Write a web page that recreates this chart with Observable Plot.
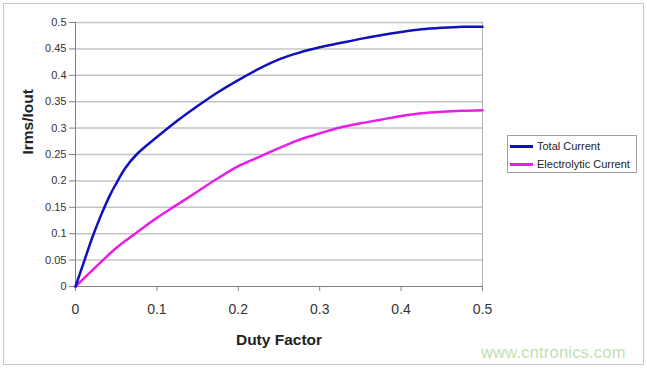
<!DOCTYPE html>
<html><head><meta charset="utf-8">
<script src="https://cdn.jsdelivr.net/npm/d3@7"></script>
<script src="https://cdn.jsdelivr.net/npm/@observablehq/plot@0.6"></script>
<style>
body{margin:0;background:#fff;font-family:Arial,"Liberation Sans",sans-serif;}
#wrap{position:relative;width:647px;height:369px;overflow:hidden;}
#wrap svg{position:absolute;left:0;top:0;}
#border{position:absolute;left:3px;top:3px;width:641px;height:362px;border:1px solid #c8c8c8;box-sizing:border-box;pointer-events:none;}
#legend{position:absolute;left:507px;top:135px;width:130px;height:38px;border:1px solid #a0a0a0;box-sizing:border-box;background:#fff;font-size:11px;color:#222;}
.item{position:absolute;left:2px;height:12px;line-height:12px;white-space:nowrap;}
.item span.sw{display:inline-block;width:23px;height:3px;vertical-align:middle;margin-right:4px;position:relative;top:-1px;}
#wm{position:absolute;left:481px;top:343px;font-size:16.5px;color:#bfe0b0;letter-spacing:0.2px;}
</style>
</head><body>
<div id="wrap"><div id="border"></div></div>
<script>
const xTicks = [0, 0.1, 0.2, 0.3, 0.4, 0.5];
const yTicks = [0, 0.05, 0.1, 0.15, 0.2, 0.25, 0.3, 0.35, 0.4, 0.45, 0.5];
const seriesNames = ["Total Current", "Electrolytic Current"];
const seriesColors = ["#1010bc", "#e81ee8"];
const dutyTotal = [0, 0.01, 0.02, 0.03, 0.043, 0.05, 0.061, 0.075, 0.1, 0.125, 0.15, 0.175, 0.2, 0.225, 0.25, 0.275, 0.3, 0.325, 0.35, 0.375, 0.4, 0.425, 0.45, 0.475, 0.5];
const totalCurrent = [0, 0.045, 0.09, 0.13, 0.175, 0.195, 0.224, 0.25, 0.283, 0.314, 0.342, 0.368, 0.391, 0.412, 0.43, 0.443, 0.453, 0.461, 0.469, 0.476, 0.482, 0.487, 0.49, 0.492, 0.492];
const dutyElectro = [0, 0.025, 0.05, 0.075, 0.1, 0.125, 0.15, 0.175, 0.2, 0.225, 0.25, 0.275, 0.3, 0.325, 0.35, 0.375, 0.4, 0.425, 0.45, 0.475, 0.5];
const electroCurrent = [0, 0.037, 0.073, 0.102, 0.13, 0.155, 0.18, 0.205, 0.228, 0.245, 0.262, 0.278, 0.29, 0.301, 0.309, 0.316, 0.323, 0.328, 0.331, 0.333, 0.334];

const total = dutyTotal.map((d, i) => ({x: d, y: totalCurrent[i]}));
const electro = dutyElectro.map((d, i) => ({x: d, y: electroCurrent[i]}));

const chart = Plot.plot({
  width: 647, height: 369,
  marginLeft: 75, marginRight: 165, marginTop: 22, marginBottom: 83,
  style: {fontFamily: "Arial, 'Liberation Sans', sans-serif", color: "#333", background: "transparent"},
  x: {domain: [0, 0.5]},
  y: {domain: [0, 0.5]},
  marks: [
    Plot.ruleY(yTicks.filter(v => v > 0), {stroke: "#c4c4c4", strokeWidth: 1.5}),
    Plot.ruleX([0.5], {stroke: "#b0b0b0", strokeWidth: 1}),
    Plot.axisY({ticks: yTicks, tickSize: 6, tickPadding: 3, fontSize: 11, label: null, stroke: "#808080", tickFormat: d3.format("")}),
    Plot.axisX({ticks: xTicks, tickSize: 5, tickPadding: 13, fontSize: 14, label: null, stroke: "#808080", tickFormat: d3.format("")}),
    Plot.ruleX([0], {stroke: "#808080", strokeWidth: 1}),
    Plot.ruleY([0], {stroke: "#808080", strokeWidth: 1}),
    Plot.line(electro, {x: "x", y: "y", stroke: seriesColors[1], strokeWidth: 2.5, curve: "catmull-rom"}),
    Plot.line(total, {x: "x", y: "y", stroke: seriesColors[0], strokeWidth: 2.5, curve: "catmull-rom"}),
    Plot.text(["Duty Factor"], {frameAnchor: "bottom", dy: 54, fontSize: 15.5, fontWeight: "bold", fill: "#222", lineAnchor: "middle"}),
    Plot.text(["Irms/Iout"], {frameAnchor: "left", dx: -47, rotate: -90, fontSize: 15.5, fontWeight: "bold", fill: "#222"})
  ]
});
const wrap = document.getElementById("wrap");
wrap.insertBefore(chart, wrap.firstChild);

const legend = document.createElement("div");
legend.id = "legend";
seriesNames.forEach((n, i) => {
  const it = document.createElement("div");
  it.className = "item";
  it.style.top = (4 + i * 18) + "px";
  const sw = document.createElement("span");
  sw.className = "sw";
  sw.style.background = seriesColors[i];
  it.appendChild(sw);
  it.appendChild(document.createTextNode(n));
  legend.appendChild(it);
});
wrap.appendChild(legend);

const wm = document.createElement("div");
wm.id = "wm";
wm.textContent = "www.cntronics.com";
wrap.appendChild(wm);
</script>
</body></html>
